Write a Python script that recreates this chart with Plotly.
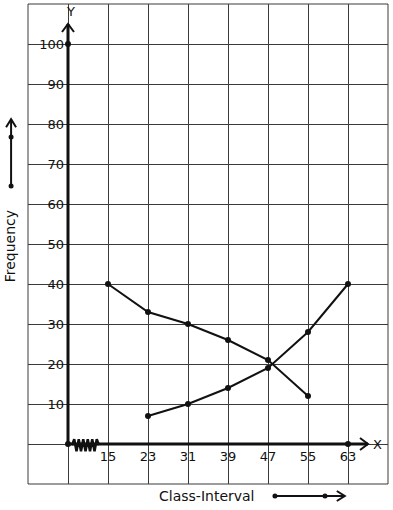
import plotly.graph_objects as go

# ---- data ----
x_upper = [15, 23, 31, 39, 47, 55]          # less-than ogive
y_less = [40, 33, 30, 26, 21, 12]
x_more = [23, 31, 39, 47, 55, 63]           # more-than ogive
y_more = [7, 10, 14, 19, 28, 40]
x_ticks = [15, 23, 31, 39, 47, 55, 63]
y_ticks = [10, 20, 30, 40, 50, 60, 70, 80, 90, 100]

# ---- axis constants ----
X_MIN, X_MAX, X_STEP = -1, 71, 8
Y_MIN, Y_MAX, Y_STEP = -10, 110, 10
ORIGIN_X = 7
INK = "#111111"
GRID = "#3a3a3a"
FONT = "DejaVu Sans"

fig = go.Figure()

x_grid = list(range(X_MIN, X_MAX + 1, X_STEP))
y_grid = list(range(Y_MIN, Y_MAX + 1, Y_STEP))

# thick axes
x_tip = ORIGIN_X + 60
y_tip = 105
fig.add_shape(type="line", x0=ORIGIN_X, y0=0, x1=x_tip, y1=0, line=dict(color=INK, width=3))
fig.add_shape(type="line", x0=ORIGIN_X, y0=0, x1=ORIGIN_X, y1=y_tip, line=dict(color=INK, width=3))
# arrow chevrons on axes (pixel paths anchored at tips)
fig.add_shape(type="path", xref="x", yref="y", xsizemode="pixel", ysizemode="pixel",
              xanchor=x_tip, yanchor=0, path="M-8,6 L0,0 L-8,-6",
              line=dict(color=INK, width=2))
fig.add_shape(type="path", xref="x", yref="y", xsizemode="pixel", ysizemode="pixel",
              xanchor=ORIGIN_X, yanchor=y_tip, path="M-6,-8 L0,0 L6,-8",
              line=dict(color=INK, width=2))

# zigzag axis break (coil-like)
zz_x, zz_y = [], []
n_z = 12
z_start, z_len = ORIGIN_X + 0.8, 5.4
for i in range(n_z + 1):
    zz_x.append(z_start + i * z_len / n_z)
    zz_y.append(-0.3 if i in (0, n_z) else (1.2 if i % 2 else -1.8))
fig.add_trace(go.Scatter(x=zz_x, y=zz_y, mode="lines", line=dict(color=INK, width=2.5),
                         hoverinfo="skip", showlegend=False))

# axis dots
fig.add_trace(go.Scatter(x=[ORIGIN_X, ORIGIN_X, x_ticks[-1]], y=[0, y_ticks[-1], 0], mode="markers",
                         marker=dict(color=INK, size=6), showlegend=False, cliponaxis=False))

# ogives
fig.add_trace(go.Scatter(x=x_upper, y=y_less, mode="lines+markers",
                         line=dict(color=INK, width=2), marker=dict(color=INK, size=6),
                         showlegend=False))
fig.add_trace(go.Scatter(x=x_more, y=y_more, mode="lines+markers",
                         line=dict(color=INK, width=2), marker=dict(color=INK, size=6),
                         showlegend=False))

# outer border
fig.add_shape(type="rect", xref="paper", yref="paper", x0=0, y0=0, x1=1, y1=1,
              line=dict(color=GRID, width=1))

# axis letters
fig.add_annotation(x=x_tip, y=0, text="X", showarrow=False, xanchor="left", xshift=3,
                   font=dict(family=FONT, size=13, color=INK))
fig.add_annotation(x=ORIGIN_X, y=Y_MAX, text="Y", showarrow=False, yanchor="top", xshift=2, yshift=2,
                   font=dict(family=FONT, size=13, color=INK))

# axis titles
fig.add_annotation(xref="paper", yref="paper", x=0.497, y=-0.025, text="Class-Interval",
                   showarrow=False, yanchor="middle", font=dict(family=FONT, size=14, color=INK))
fig.add_annotation(xref="paper", yref="paper", x=-0.049, y=0.496, text="Frequency", textangle=-90,
                   showarrow=False, xanchor="center", font=dict(family=FONT, size=14, color=INK))

# decorative arrows beside titles
# bottom
fig.add_shape(type="line", xref="paper", yref="paper", x0=0.686, y0=-0.025, x1=0.88, y1=-0.025,
              line=dict(color=INK, width=2))
fig.add_shape(type="path", xref="paper", yref="paper", xsizemode="pixel", ysizemode="pixel",
              xanchor=0.88, yanchor=-0.025, path="M-8,5 L0,0 L-8,-5", line=dict(color=INK, width=2))
for xp in (0.686, 0.825):
    fig.add_shape(type="circle", xref="paper", yref="paper", xsizemode="pixel", ysizemode="pixel",
                  xanchor=xp, yanchor=-0.025, x0=-2.5, x1=2.5, y0=-2.5, y1=2.5,
                  fillcolor=INK, line=dict(color=INK, width=0))
# left
fig.add_shape(type="line", xref="paper", yref="paper", x0=-0.047, y0=0.621, x1=-0.047, y1=0.76,
              line=dict(color=INK, width=2))
fig.add_shape(type="path", xref="paper", yref="paper", xsizemode="pixel", ysizemode="pixel",
              xanchor=-0.047, yanchor=0.76, path="M-5,-8 L0,0 L5,-8", line=dict(color=INK, width=2))
for yp in (0.621, 0.723):
    fig.add_shape(type="circle", xref="paper", yref="paper", xsizemode="pixel", ysizemode="pixel",
                  xanchor=-0.047, yanchor=yp, x0=-2.5, x1=2.5, y0=-2.5, y1=2.5,
                  fillcolor=INK, line=dict(color=INK, width=0))

x_text = [str(v) if v in x_ticks else "" for v in x_grid]
y_text = [str(v) if v in y_ticks else "" for v in y_grid]

fig.update_layout(
    width=393, height=510,
    margin=dict(l=28, r=5, t=4, b=26, autoexpand=False),
    paper_bgcolor="white", plot_bgcolor="white",
    font=dict(family=FONT, size=13, color=INK),
    xaxis=dict(range=[X_MIN, X_MAX], tickvals=x_grid, ticktext=x_text, showgrid=True,
               gridcolor=GRID, gridwidth=1, zeroline=False, showline=False, ticks="",
               anchor="free", position=(0 - Y_MIN) / (Y_MAX - Y_MIN), fixedrange=True,
               automargin=False, ticklabelstandoff=3,
               tickfont=dict(family=FONT, size=13, color=INK)),
    yaxis=dict(range=[Y_MIN, Y_MAX], tickvals=y_grid, ticktext=y_text, showgrid=True,
               gridcolor=GRID, gridwidth=1, zeroline=False, showline=False, ticks="",
               anchor="free", position=(ORIGIN_X - X_MIN) / (X_MAX - X_MIN), fixedrange=True,
               automargin=False, ticklabelstandoff=4,
               tickfont=dict(family=FONT, size=13, color=INK)),
)

fig.write_html("out.html", config=dict(displayModeBar=False),
               post_script="document.body.style.margin='0';document.body.style.overflow='hidden';")
